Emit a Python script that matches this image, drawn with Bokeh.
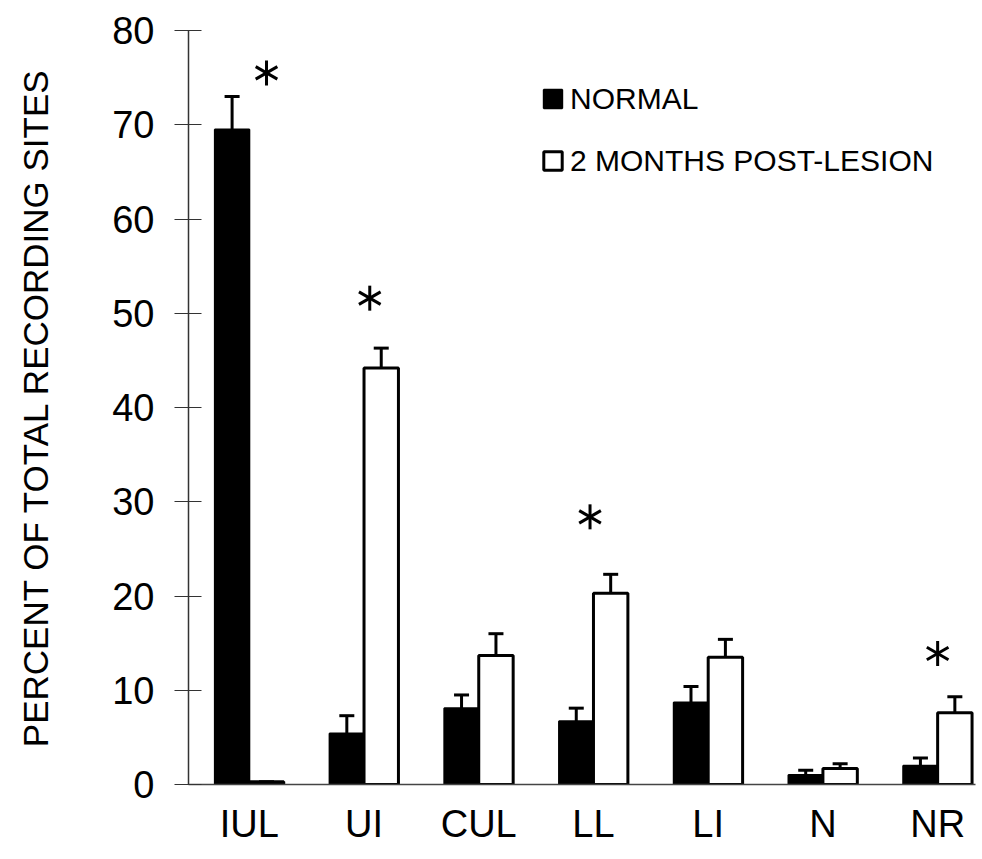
from bokeh.plotting import figure
from bokeh.models import (Range1d, FixedTicker, ColumnDataSource, Whisker, TeeHead,
                          Legend, LegendItem)
from bokeh.embed import file_html
from bokeh.resources import INLINE

# ---- data ----
categories = ["IUL", "UI", "CUL", "LL", "LI", "N", "NR"]
normal = [69.5, 5.4, 8.1, 6.7, 8.7, 1.0, 2.0]
normal_err = [3.5, 1.9, 1.4, 1.4, 1.7, 0.5, 0.8]
lesion = [0.3, 44.2, 13.7, 20.3, 13.5, 1.7, 7.6]
lesion_err = [0.0, 2.1, 2.3, 2.0, 1.9, 0.5, 1.7]
sig_categories = ["IUL", "UI", "LL", "NR"]
sig_y = [75.5, 51.6, 28.4, 13.9]
sig_offset = [0.15, 0.05, -0.03, 0.0]
y_ticks = [0, 10, 20, 30, 40, 50, 60, 70, 80]
series_names = ["NORMAL", "2 MONTHS POST-LESION"]

FONT = "Liberation Sans"
BAR_W = 0.30

xpos = [i + 1 for i in range(len(categories))]
src_n = ColumnDataSource(dict(
    x=[x - BAR_W / 2 for x in xpos], top=normal,
    up=[v + e for v, e in zip(normal, normal_err)]))
src_l = ColumnDataSource(dict(
    x=[x + BAR_W / 2 for x in xpos], top=lesion,
    up=[v + e for v, e in zip(lesion, lesion_err)]))

p = figure(width=982, height=859, x_range=Range1d(0.47, 7.33), y_range=Range1d(0, 80),
           output_backend="svg", toolbar_location=None,
           min_border_left=188, min_border_right=7, min_border_top=30, min_border_bottom=75)
p.outline_line_color = None
p.grid.visible = False
p.background_fill_color = "white"
p.border_fill_color = "white"

# error bars
for src in (src_n, src_l):
    w = Whisker(source=src, base="x", lower="top", upper="up", dimension="height",
                line_color="black", line_width=3,
                upper_head=TeeHead(size=15, line_width=3, line_color="black"),
                lower_head=None)
    p.add_layout(w)

r_n = p.vbar(x="x", top="top", bottom=0, width=BAR_W, source=src_n,
             fill_color="black", line_color="black", line_width=2)
r_l = p.vbar(x="x", top="top", bottom=0, width=BAR_W, source=src_l,
             fill_color="white", line_color="black", line_width=3)

# significance asterisks (six-armed, built from three rotated dashes)
sx = [categories.index(c) + 1 + o for c, o in zip(sig_categories, sig_offset)]
for ang in (90, 30, -30):
    p.scatter(x=sx, y=sig_y, marker="dash", size=25, angle=ang, angle_units="deg",
              line_color="black", line_width=3)

# axes
ya = p.yaxis[0]
ya.ticker = FixedTicker(ticks=y_ticks)
ya.minor_tick_line_color = None
ya.major_tick_in = 13
ya.major_tick_out = 14
ya.major_tick_line_color = "#333333"
ya.major_tick_line_width = 1
ya.axis_line_color = "#333333"
ya.axis_line_width = 1.5
ya.major_label_text_font = FONT
ya.major_label_text_font_size = "38px"
ya.major_label_text_color = "black"
ya.major_label_standoff = 20
ya.axis_label = "PERCENT OF TOTAL RECORDING SITES"
ya.axis_label_text_font = FONT
ya.axis_label_text_font_size = "35px"
ya.axis_label_text_font_style = "normal"
ya.axis_label_text_color = "black"
ya.axis_label_standoff = 54

xa = p.xaxis[0]
xa.ticker = FixedTicker(ticks=xpos)
xa.major_label_overrides = {x: c for x, c in zip(xpos, categories)}
xa.minor_tick_line_color = None
xa.major_tick_line_color = None
xa.major_tick_in = 0
xa.major_tick_out = 0
xa.axis_line_color = "#444444"
xa.axis_line_width = 1.5
xa.major_label_text_font = FONT
xa.major_label_text_font_size = "38px"
xa.major_label_text_color = "black"
xa.major_label_standoff = 18

# legend
legend = Legend(items=[LegendItem(label=series_names[0], renderers=[r_n]),
                       LegendItem(label=series_names[1], renderers=[r_l])],
                location=(353, 606), orientation="vertical",
                glyph_width=23, glyph_height=23, label_height=35, spacing=27,
                label_standoff=6, padding=0, margin=0,
                border_line_color=None, background_fill_alpha=0,
                label_text_font=FONT, label_text_font_size="30px",
                label_text_color="black")
p.add_layout(legend)

open("out.html", "w").write(file_html(p, INLINE))
